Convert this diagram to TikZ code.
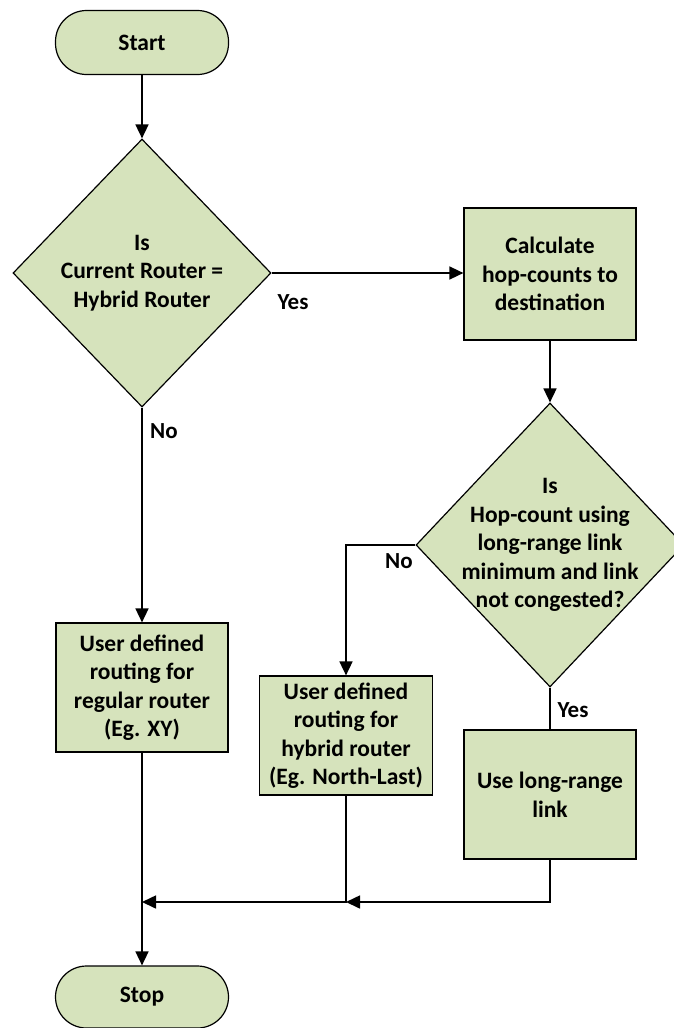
\documentclass[tikz,border=0pt]{standalone}
\usepackage{fontspec}
\setmainfont{Carlito}
\usetikzlibrary{shapes.geometric,arrows.meta}
\definecolor{boxfill}{HTML}{D6E3BC}
\tikzset{
  base/.style={draw=black, line width=1.2pt, fill=boxfill, align=center,
    font=\bfseries\fontsize{23.5}{28.5}\selectfont, inner sep=0pt},
  terminal/.style={base, rectangle, rounded corners=31pt, minimum width=173pt, minimum height=64pt},
  process/.style={base, rectangle},
  decision/.style={base, diamond},
  arr/.style={line width=1.6pt, -{Triangle[length=14pt,width=13pt]}},
  plain/.style={line width=1.6pt},
  lbl/.style={font=\bfseries\fontsize{23}{28}\selectfont, inner sep=0pt},
  dtext/.style={align=center, font=\bfseries\fontsize{23.5}{28.5}\selectfont, inner sep=0pt}
}
\begin{document}
\begin{tikzpicture}[x=1pt, y=-1pt]
\useasboundingbox (0,0) rectangle (674,1028);

% terminals
\node[terminal] (start) at (142,42.5) {Start};
\node[terminal, minimum height=62pt] (stop) at (142,997) {Stop};

% decisions (shape and text kept separate so the diamonds keep their size)
\node[decision, minimum width=258pt, minimum height=268pt] (d1) at (142,273) {};
\node[dtext] (d1t) at (d1.center) {Is\\Current Router =\\Hybrid Router};
\node[decision, minimum width=268pt, minimum height=284pt] (d2) at (550,545) {};
\node[dtext] (d2t) at (d2.center) {Is\\Hop-count using\\long-range link\\minimum and link\\not congested?};

% processes
\node[process, minimum width=172pt, minimum height=132pt] (calc) at (550,274) {Calculate\\hop-counts to\\destination};
\node[process, minimum width=172pt, minimum height=129pt] (reg) at (142,687.5) {User defined\\routing for\\regular router\\(Eg. XY)};
\node[process, minimum width=173pt, minimum height=119pt] (hyb) at (346,735.5) {User defined\\routing for\\hybrid router\\(Eg. North-Last)};
\node[process, minimum width=172pt, minimum height=129pt] (use) at (550,794.5) {Use long-range\\link};

% merge points on the bottom bus
\coordinate (m1) at (346,902);
\coordinate (m2) at (142,902);

% connectors
\draw[arr] (start.south) -- (d1.north);
\draw[arr] (d1.east) -- (d1.east -| calc.west);
\draw[arr] (calc.south) -- (d2.north);
\draw[arr] (d1.south) -- (reg.north);
\draw[arr] (d2.west) -| (hyb.north);
\draw[plain] (d2.south) -- (use.north);
\draw[arr] (use.south) |- (m1);
\draw[arr] (hyb.south) |- (m2);
\draw[arr] (reg.south) -- (stop.north);

% branch labels
\node[lbl] (yes1) at (293,302) {Yes};
\node[lbl] (no1) at (164,431) {No};
\node[lbl] (no2) at (399,561) {No};
\node[lbl] (yes2) at (573,710) {Yes};
\end{tikzpicture}
\end{document}
